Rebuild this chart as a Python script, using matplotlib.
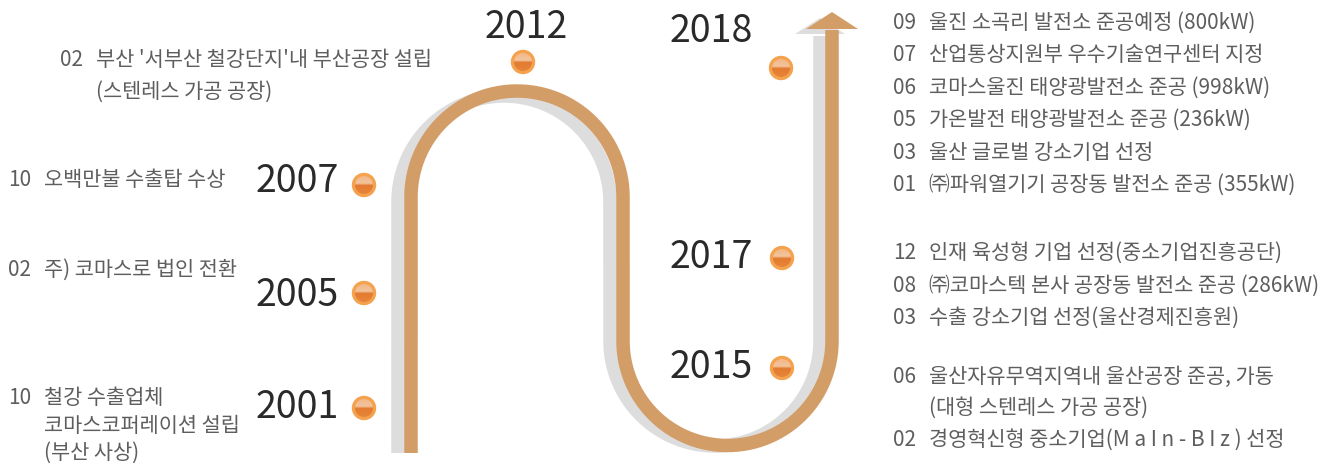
import numpy as np
import matplotlib
matplotlib.use("Agg")
import matplotlib.pyplot as plt
from matplotlib.patches import Circle, Polygon
from matplotlib.colors import LinearSegmentedColormap

plt.rcParams['font.family'] = ['Noto Sans CJK KR', 'DejaVu Sans']

# ---- data ----
years = ["2001", "2005", "2007", "2012", "2015", "2017", "2018"]

events_2001 = [("10", "철강 수출업체"), ("", "코마스코퍼레이션 설립"), ("", "(부산 사상)")]
events_2005 = [("02", "주) 코마스로 법인 전환")]
events_2007 = [("10", "오백만불 수출탑 수상")]
events_2012 = [("02", "부산 '서부산 철강단지'내 부산공장 설립"), ("", "(스텐레스 가공 공장)")]
events_2015 = [("06", "울산자유무역지역내 울산공장 준공, 가동"), ("", "(대형 스텐레스 가공 공장)"),
               ("02", "경영혁신형 중소기업(M a I n - B I z ) 선정")]
events_2017 = [("12", "인재 육성형 기업 선정(중소기업진흥공단)"),
               ("08", "㈜코마스텍 본사 공장동 발전소 준공 (286kW)"),
               ("03", "수출 강소기업 선정(울산경제진흥원)")]
events_2018 = [("09", "울진 소곡리 발전소 준공예정 (800kW)"),
               ("07", "산업통상지원부 우수기술연구센터 지정"),
               ("06", "코마스울진 태양광발전소 준공 (998kW)"),
               ("05", "가온발전 태양광발전소 준공 (236kW)"),
               ("03", "울산 글로벌 강소기업 선정"),
               ("01", "㈜파워열기기 공장동 발전소 준공 (355kW)")]

# ---- layout (pixel space) ----
W, H = 1339, 476
ORANGE = "#d39d67"
GRAY = "#dddddd"
TXT = "#5e5e5e"
YEARC = "#2a2a2a"

# year label: (x, y, ha), dot center
year_layout = {
    "2001": (339, 407, "right", (364, 408)),
    "2005": (339, 295, "right", (364, 293)),
    "2007": (339, 182, "right", (364, 185)),
    "2012": (526, 27, "center", (523, 62)),
    "2015": (753, 367, "right", (782, 368)),
    "2017": (753, 257, "right", (782, 258)),
    "2018": (753, 32, "right", (781, 68)),
}
# event block: month x, first line y, line spacing
event_layout = [
    (events_2001, 8, 398, 27.5),
    (events_2005, 8, 270, 32),
    (events_2007, 8, 180, 32),
    (events_2012, 60, 60, 32),
    (events_2015[:2], 893, 377, 31),
    (events_2015[2:], 893, 440, 32),
    (events_2017, 893, 253, 32.5),
    (events_2018, 893, 23, 32.4),
]
TEXT_OFF = 36
FS = 15

fig = plt.figure(figsize=(W / 100, H / 100), dpi=100)
ax = fig.add_axes([0, 0, 1, 1])
ax.set_xlim(0, W)
ax.set_ylim(H, 0)
ax.axis('off')


def arc(cx, cy, r, a0, a1, n=120):
    t = np.radians(np.linspace(a0, a1, n))
    return cx + r * np.cos(t), cy - r * np.sin(t)


def track(xl, xm, xr, top_cy, bot_cy, bottom, arrow_y):
    r1 = (xm - xl) / 2
    r2 = (xr - xm) / 2
    ax1, ay1 = arc(xl + r1, top_cy, r1, 180, 0)
    ax2, ay2 = arc(xm + r2, bot_cy, r2, 180, 360)
    xs = np.concatenate([[xl], ax1, [xm], ax2, [xr]])
    ys = np.concatenate([[bottom], ay1, [bot_cy], ay2, [arrow_y]])
    return xs, ys


lw = 13.5 * 0.72
gx, gy = track(398, 610, 820, 202, 341, 453, 36)
ax.plot(gx, gy, color=GRAY, lw=lw, solid_capstyle='butt', solid_joinstyle='miter', zorder=1)
ax.add_patch(Polygon([(795, 34), (845, 34), (820, 18)], closed=True, color=GRAY, lw=0, zorder=1))

ox, oy = track(411, 623, 832, 197, 341, 453, 30)
ax.plot(ox, oy, color=ORANGE, lw=lw, solid_capstyle='butt', solid_joinstyle='miter', zorder=2)
ax.add_patch(Polygon([(806, 29), (858, 29), (832, 12)], closed=True, color=ORANGE, lw=0, zorder=2))

# ---- dots ----
dot_cmap = LinearSegmentedColormap.from_list(
    "dot", [(0, "#f2b888"), (0.40, "#f4c49c"), (0.52, "#e37a30"), (1, "#e6863a")])
grad = np.linspace(0, 1, 64).reshape(-1, 1)
for y in years:
    _, _, _, (cx, cy) = year_layout[y]
    ax.add_patch(Circle((cx, cy), 11.5, color="#f5a24e", zorder=3))
    im = ax.imshow(grad, cmap=dot_cmap, extent=(cx - 9, cx + 9, cy + 9, cy - 9),
                   aspect='auto', zorder=4, interpolation='bilinear')
    clip = Circle((cx, cy), 9, transform=ax.transData)
    im.set_clip_path(clip)

# ---- year labels ----
for y in years:
    x0, y0, ha, _ = year_layout[y]
    ax.text(x0, y0, y, ha=ha, va='center', fontsize=27, color=YEARC, zorder=5)

# ---- events ----
for lines, mx, y0, dy in event_layout:
    for i, (mon, txt) in enumerate(lines):
        yy = y0 + i * dy
        if mon:
            ax.text(mx, yy, mon, ha='left', va='center', fontsize=FS, color=TXT)
        ax.text(mx + TEXT_OFF, yy, txt, ha='left', va='center', fontsize=FS, color=TXT)

ax.set_xlim(0, W)
ax.set_ylim(H, 0)
fig.savefig("out.png", dpi=100, facecolor="white")
